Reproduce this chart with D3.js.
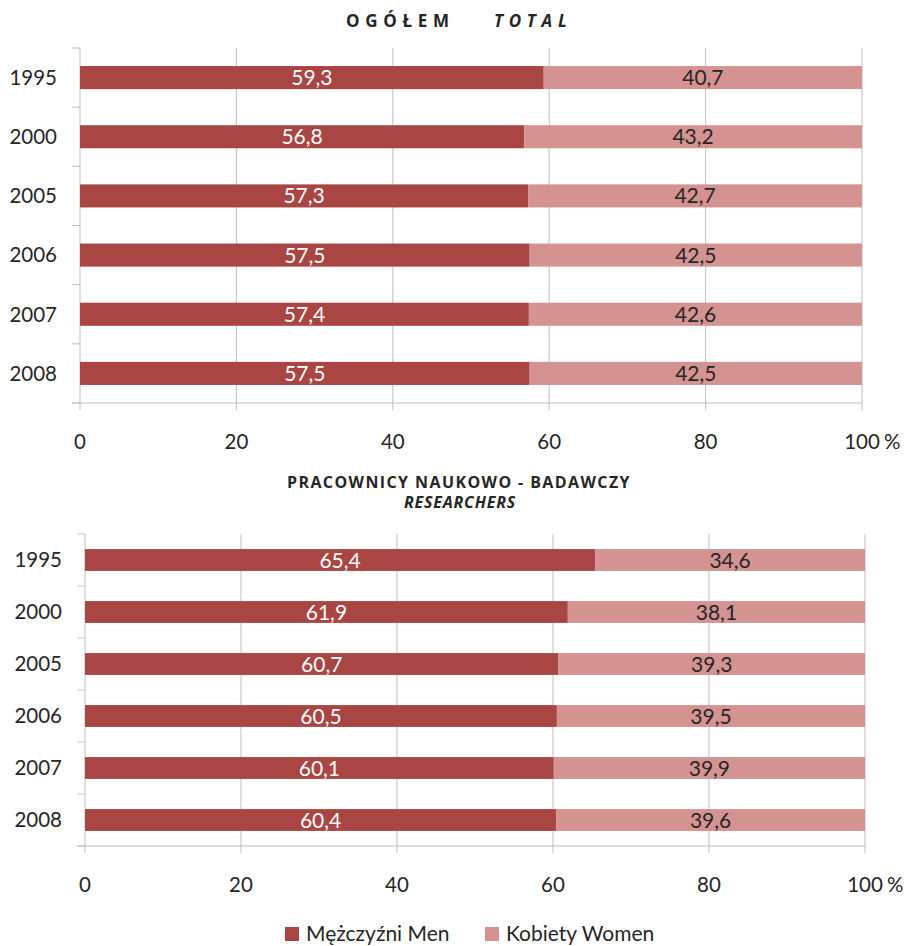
<!DOCTYPE html>
<html><head><meta charset="utf-8">
<script src="https://cdn.jsdelivr.net/npm/d3@7"></script>
<style>body{margin:0;background:#fff}svg{display:block}</style>
</head><body>
<svg id="c" width="908" height="946"></svg>
<script>
const years = ["1995","2000","2005","2006","2007","2008"];
const totalMen = [59.3,56.8,57.3,57.5,57.4,57.5];
const totalWomen = [40.7,43.2,42.7,42.5,42.6,42.5];
const resMen = [65.4,61.9,60.7,60.5,60.1,60.4];
const resWomen = [34.6,38.1,39.3,39.5,39.9,39.6];
const xTicks = [0,20,40,60,80,100];
const seriesNames = ["Mężczyźni Men","Kobiety Women"];
const colors = ["#A94644","#D49391"];

const svg = d3.select("#c");
const FONT = "Lato, 'Open Sans', sans-serif";
const TXT = "#262626";

function panel(cfg, men, women) {
  const x = d3.scaleLinear().domain([0,100]).range([cfg.x0, cfg.x1]);
  const y = d3.scaleBand().domain(years).range([cfg.y0, cfg.y1]).paddingInner(cfg.pad).paddingOuter(cfg.pad/2);
  const g = svg.append("g");
  const grid = "#BFBFBF";
  g.selectAll(".gl").data(xTicks.slice(1)).join("line")
    .attr("x1", d=>x(d)).attr("x2", d=>x(d))
    .attr("y1", cfg.y0).attr("y2", cfg.y1 + 7)
    .attr("stroke", grid).attr("stroke-width", 1);
  g.append("line").attr("x1", x(0)).attr("x2", x(0)).attr("y1", cfg.y0).attr("y2", cfg.y1+7)
    .attr("stroke", grid);
  const bounds = d3.range(years.length+1).map(i => cfg.y0 + i*y.step());
  g.selectAll(".yt").data(bounds).join("line")
    .attr("x1", x(0)-8).attr("x2", x(0)).attr("y1", d=>d).attr("y2", d=>d)
    .attr("stroke", grid);
  g.append("line").attr("x1", x(0)-8).attr("x2", x(100)).attr("y1", cfg.y1).attr("y2", cfg.y1).attr("stroke", grid);

  const data = years.map((yr,i)=>({yr, m:men[i], w:women[i]}));
  g.selectAll(".bm").data(data).join("rect")
    .attr("x", x(0)).attr("y", d=>y(d.yr)).attr("width", d=>x(d.m)-x(0)).attr("height", y.bandwidth())
    .attr("fill", colors[0]);
  g.selectAll(".bw").data(data).join("rect")
    .attr("x", d=>x(d.m)).attr("y", d=>y(d.yr)).attr("width", d=>x(d.m+d.w)-x(d.m)).attr("height", y.bandwidth())
    .attr("fill", colors[1]);
  const fmt = v => v.toFixed(1).replace(".", ",");
  g.selectAll(".lm").data(data).join("text")
    .attr("x", d=>x(d.m/2)).attr("y", d=>y(d.yr)+y.bandwidth()/2).attr("dy","0.36em")
    .attr("text-anchor","middle").attr("fill","#fff").attr("font-family",FONT).attr("font-size",21)
    .text(d=>fmt(d.m));
  g.selectAll(".lw").data(data).join("text")
    .attr("x", d=>x(d.m + d.w/2)).attr("y", d=>y(d.yr)+y.bandwidth()/2).attr("dy","0.36em")
    .attr("text-anchor","middle").attr("fill",TXT).attr("font-family",FONT).attr("font-size",21)
    .text(d=>fmt(d.w));
  g.selectAll(".yl").data(years).join("text")
    .attr("x", cfg.labX).attr("y", d=>y(d)+y.bandwidth()/2).attr("dy","0.36em")
    .attr("text-anchor","end").attr("fill",TXT).attr("font-family",FONT).attr("font-size",20.5)
    .text(d=>d);
  g.selectAll(".xl").data(xTicks).join("text")
    .attr("x", d=>x(d)).attr("y", cfg.xlabY).attr("dy","0.36em")
    .attr("text-anchor","middle").attr("fill",TXT).attr("font-family",FONT).attr("font-size",20.5)
    .text(d=>d);
  g.append("text").attr("x", x(100)+22).attr("y", cfg.xlabY).attr("dy","0.36em")
    .attr("text-anchor","start").attr("fill",TXT).attr("font-family",FONT).attr("font-size",20.5)
    .text("%");
}

panel({x0:80,x1:862,y0:48,y1:403,pad:0.61,labX:57,xlabY:442}, totalMen, totalWomen);
panel({x0:85,x1:865,y0:534,y1:846,pad:0.58,labX:62,xlabY:885}, resMen, resWomen);

// titles
const t1 = svg.append("text").attr("y",21).attr("dy","0.36em").attr("font-family","'Open Sans', sans-serif")
  .attr("font-size",17).attr("font-weight","bold").attr("fill",TXT).attr("letter-spacing","5.7px");
t1.append("tspan").attr("x",346).text("OGÓŁEM");
t1.append("tspan").attr("x",494).attr("font-style","italic").text("TOTAL");

svg.append("text").attr("x",459).attr("y",482).attr("dy","0.36em").attr("text-anchor","middle")
  .attr("font-family","'Open Sans', sans-serif").attr("font-size",16).attr("font-weight","bold").attr("fill",TXT)
  .attr("letter-spacing","1.4px")
  .text("PRACOWNICY NAUKOWO - BADAWCZY");
svg.append("text").attr("x",460).attr("y",502).attr("dy","0.36em").attr("text-anchor","middle")
  .attr("font-family","'Open Sans', sans-serif").attr("font-size",16).attr("font-weight","bold").attr("font-style","italic").attr("fill",TXT)
  .attr("letter-spacing","0.8px")
  .text("RESEARCHERS");

// legend
const legX = [285, 485];
const lg = svg.append("g");
seriesNames.forEach((n,i)=>{
  lg.append("rect").attr("x",legX[i]).attr("y",927).attr("width",14).attr("height",14).attr("fill",colors[i]);
  lg.append("text").attr("x",legX[i]+21).attr("y",933).attr("dy","0.36em").attr("font-family",FONT)
    .attr("font-size",21).attr("fill",TXT).text(n);
});
</script>
</body></html>
